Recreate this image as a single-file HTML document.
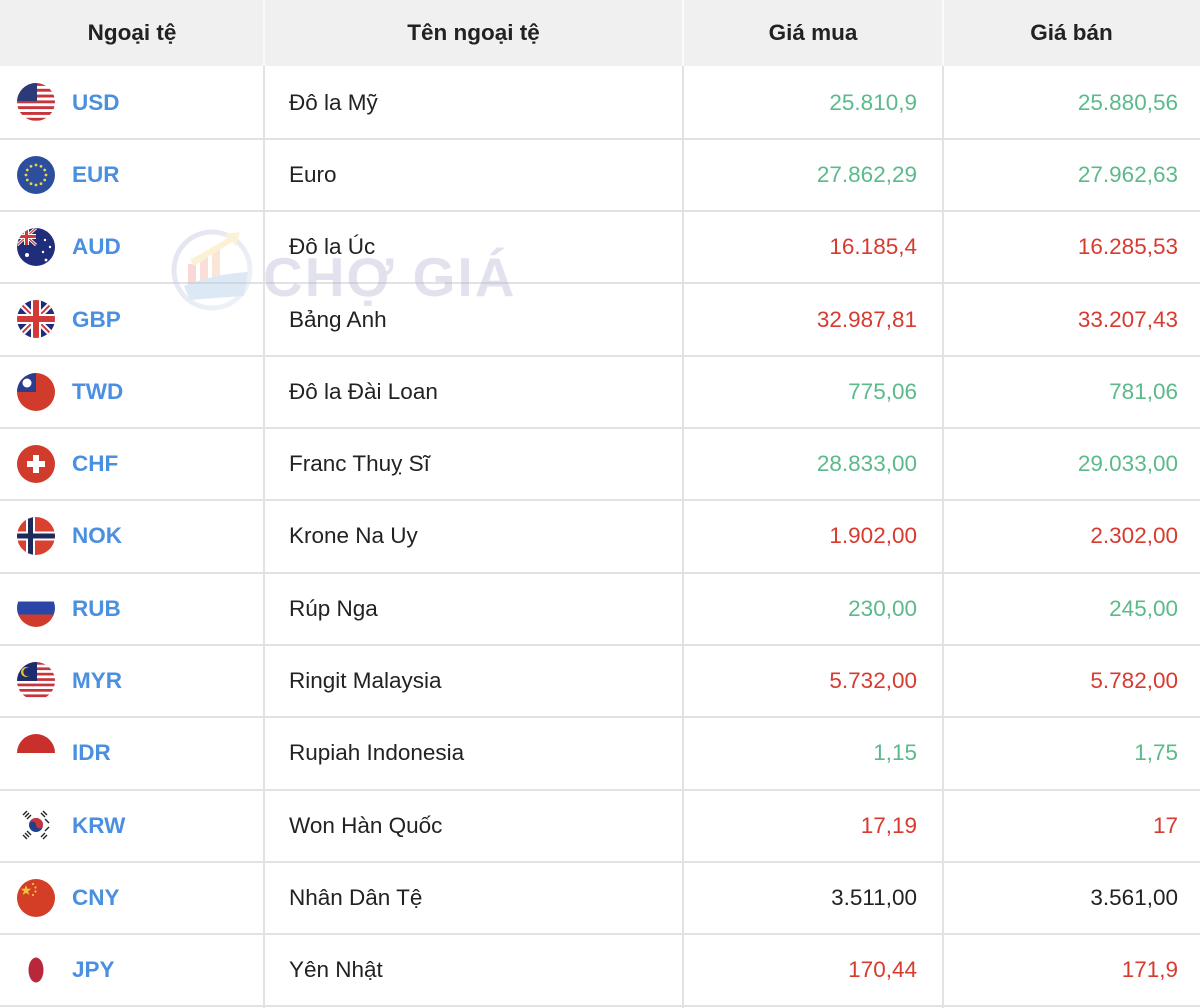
<!DOCTYPE html>
<html>
<head>
<meta charset="utf-8">
<style>
*{margin:0;padding:0;box-sizing:border-box;}
html,body{width:1200px;height:1008px;background:#fff;overflow:hidden;}
body{position:relative;font-family:"Liberation Sans",Arial,sans-serif;color:#222;}
.hdr{position:absolute;left:0;top:0;width:1200px;height:66px;background:#f0f0f0;}
.hc{position:absolute;top:0;height:66px;line-height:65px;text-align:center;font-weight:bold;font-size:22.5px;color:#222;}
.hsep{position:absolute;top:0;width:2px;height:66px;background:#fafafa;}
.vl{position:absolute;top:66px;width:2px;height:942px;background:#e2e2e2;}
.hl{position:absolute;left:0;width:1200px;height:2px;background:#e2e2e2;}
.flag{position:absolute;left:17px;width:38px;height:38px;}
.code{position:absolute;left:72px;font-weight:bold;font-size:22.5px;color:#4a8fe0;margin-top:1px;}
.name{position:absolute;left:289px;font-size:22.5px;color:#222;margin-top:1px;}
.buy{position:absolute;right:283px;font-size:22.5px;text-align:right;margin-top:1px;}
.sell{position:absolute;right:22px;font-size:22.5px;text-align:right;margin-top:1px;}
.g{color:#5bba8a;}
.r{color:#d73a2f;}
.k{color:#222;}
.wm{position:absolute;left:263px;top:245px;font-weight:bold;font-size:55px;color:rgba(180,180,210,0.38);letter-spacing:2px;white-space:nowrap;}
.logo{position:absolute;left:170px;top:226px;width:88px;height:88px;}
</style>
</head>
<body>
<div class="hdr"></div>
<div class="hc" style="left:0;width:264px;">Ngoại tệ</div>
<div class="hc" style="left:264px;width:419px;">Tên ngoại tệ</div>
<div class="hc" style="left:683px;width:260px;">Giá mua</div>
<div class="hc" style="left:943px;width:257px;">Giá bán</div>
<div class="hsep" style="left:263px;"></div>
<div class="hsep" style="left:682px;"></div>
<div class="hsep" style="left:942px;"></div>

<div class="vl" style="left:263px;"></div>
<div class="vl" style="left:682px;"></div>
<div class="vl" style="left:942px;"></div>

<div class="hl" style="top:138px"></div>
<div class="hl" style="top:210px"></div>
<div class="hl" style="top:282px"></div>
<div class="hl" style="top:355px"></div>
<div class="hl" style="top:427px"></div>
<div class="hl" style="top:499px"></div>
<div class="hl" style="top:572px"></div>
<div class="hl" style="top:644px"></div>
<div class="hl" style="top:716px"></div>
<div class="hl" style="top:789px"></div>
<div class="hl" style="top:861px"></div>
<div class="hl" style="top:933px"></div>
<div class="hl" style="top:1005px"></div>

<!-- watermark -->
<svg class="logo" viewBox="0 0 88 88" opacity="0.4">
  <defs>
    <linearGradient id="lg1" x1="0" y1="0" x2="1" y2="1">
      <stop offset="0" stop-color="#b9b9dd"/>
      <stop offset="1" stop-color="#d8e4f0"/>
    </linearGradient>
  </defs>
  <circle cx="42" cy="44" r="38" fill="none" stroke="url(#lg1)" stroke-width="5"/>
  <rect x="18" y="38" width="8" height="20" fill="#f2a3a0"/>
  <rect x="30" y="30" width="8" height="28" fill="#f4b0a0"/>
  <rect x="42" y="24" width="8" height="34" fill="#f6c0a0"/>
  <path d="M20 34 L58 12 L54 8 L70 6 L66 20 L62 16 L24 40 Z" fill="#f6e09a"/>
  <path d="M14 60 Q44 48 78 46 L74 70 Q44 72 20 74 Z" fill="#a9c7e6"/>
</svg>
<div class="wm">CHỢ GIÁ</div>

<svg class="flag" style="top:83px" viewBox="0 0 38 38">
  <defs><clipPath id="c1"><circle cx="19" cy="19" r="19"/></clipPath></defs>
  <g clip-path="url(#c1)">
    <rect width="38" height="38" fill="#fff"/>
    <rect y="0" width="38" height="2.9" fill="#c8343c"/>
    <rect y="5.8" width="38" height="2.9" fill="#c8343c"/>
    <rect y="11.6" width="38" height="2.9" fill="#c8343c"/>
    <rect y="17.4" width="38" height="2.9" fill="#c8343c"/>
    <rect y="23.2" width="38" height="2.9" fill="#c8343c"/>
    <rect y="29" width="38" height="2.9" fill="#c8343c"/>
    <rect y="34.8" width="38" height="2.9" fill="#c8343c"/>
    <rect width="20" height="18" fill="#2c3a78"/>
  </g>
</svg>
<div class="code" style="top:89px">USD</div>
<div class="name" style="top:89px">Đô la Mỹ</div>
<div class="buy g" style="top:89px">25.810,9</div>
<div class="sell g" style="top:89px">25.880,56</div>

<svg class="flag" style="top:156px" viewBox="0 0 38 38">
  <circle cx="19" cy="19" r="19" fill="#2d4e9c"/>
  <g fill="#e8d44a">
    <circle cx="19" cy="9" r="1.4"/><circle cx="24" cy="10.3" r="1.4"/><circle cx="27.7" cy="14" r="1.4"/>
    <circle cx="29" cy="19" r="1.4"/><circle cx="27.7" cy="24" r="1.4"/><circle cx="24" cy="27.7" r="1.4"/>
    <circle cx="19" cy="29" r="1.4"/><circle cx="14" cy="27.7" r="1.4"/><circle cx="10.3" cy="24" r="1.4"/>
    <circle cx="9" cy="19" r="1.4"/><circle cx="10.3" cy="14" r="1.4"/><circle cx="14" cy="10.3" r="1.4"/>
  </g>
</svg>
<div class="code" style="top:161px">EUR</div>
<div class="name" style="top:161px">Euro</div>
<div class="buy g" style="top:161px">27.862,29</div>
<div class="sell g" style="top:161px">27.962,63</div>

<svg class="flag" style="top:228px" viewBox="0 0 38 38">
  <defs><clipPath id="c3"><circle cx="19" cy="19" r="19"/></clipPath></defs>
  <g clip-path="url(#c3)">
    <rect width="38" height="38" fill="#1f2d7a"/>
    <path d="M0 0 L19 17 M19 0 L0 17" stroke="#fff" stroke-width="3"/>
    <path d="M0 0 L19 17 M19 0 L0 17" stroke="#d23a3a" stroke-width="1.2"/>
    <rect x="7" y="0" width="5" height="17" fill="#fff"/>
    <rect x="0" y="6" width="19" height="5" fill="#fff"/>
    <rect x="8" y="0" width="3" height="17" fill="#d23a3a"/>
    <rect x="0" y="7" width="19" height="3" fill="#d23a3a"/>
    <circle cx="10" cy="27" r="2" fill="#fff"/>
    <circle cx="28" cy="12" r="1.2" fill="#fff"/>
    <circle cx="33" cy="19" r="1.2" fill="#fff"/>
    <circle cx="26" cy="24" r="1.2" fill="#fff"/>
    <circle cx="29" cy="32" r="1.4" fill="#fff"/>
  </g>
</svg>
<div class="code" style="top:233px">AUD</div>
<div class="name" style="top:233px">Đô la Úc</div>
<div class="buy r" style="top:233px">16.185,4</div>
<div class="sell r" style="top:233px">16.285,53</div>

<svg class="flag" style="top:300px" viewBox="0 0 38 38">
  <defs><clipPath id="c4"><circle cx="19" cy="19" r="19"/></clipPath></defs>
  <g clip-path="url(#c4)">
    <rect width="38" height="38" fill="#1f2d7a"/>
    <path d="M0 0 L38 38 M38 0 L0 38" stroke="#fff" stroke-width="6"/>
    <path d="M0 0 L38 38 M38 0 L0 38" stroke="#d23a3a" stroke-width="2"/>
    <rect x="14" y="0" width="10" height="38" fill="#fff"/>
    <rect x="0" y="14" width="38" height="10" fill="#fff"/>
    <rect x="16" y="0" width="6" height="38" fill="#d23a3a"/>
    <rect x="0" y="16" width="38" height="6" fill="#d23a3a"/>
  </g>
</svg>
<div class="code" style="top:306px">GBP</div>
<div class="name" style="top:306px">Bảng Anh</div>
<div class="buy r" style="top:306px">32.987,81</div>
<div class="sell r" style="top:306px">33.207,43</div>

<svg class="flag" style="top:373px" viewBox="0 0 38 38">
  <defs><clipPath id="c5"><circle cx="19" cy="19" r="19"/></clipPath></defs>
  <g clip-path="url(#c5)">
    <rect width="38" height="38" fill="#d13b2b"/>
    <rect width="19" height="19" fill="#2a3d8f"/>
    <circle cx="10" cy="10" r="4.5" fill="#fff"/>
  </g>
</svg>
<div class="code" style="top:378px">TWD</div>
<div class="name" style="top:378px">Đô la Đài Loan</div>
<div class="buy g" style="top:378px">775,06</div>
<div class="sell g" style="top:378px">781,06</div>

<svg class="flag" style="top:445px" viewBox="0 0 38 38">
  <circle cx="19" cy="19" r="19" fill="#d13b2b"/>
  <rect x="16" y="10" width="6" height="18" fill="#fff"/>
  <rect x="10" y="16" width="18" height="6" fill="#fff"/>
</svg>
<div class="code" style="top:450px">CHF</div>
<div class="name" style="top:450px">Franc Thuỵ Sĩ</div>
<div class="buy g" style="top:450px">28.833,00</div>
<div class="sell g" style="top:450px">29.033,00</div>

<svg class="flag" style="top:517px" viewBox="0 0 38 38">
  <defs><clipPath id="c7"><circle cx="19" cy="19" r="19"/></clipPath></defs>
  <g clip-path="url(#c7)">
    <rect width="38" height="38" fill="#d8412f"/>
    <rect x="9" y="0" width="9" height="38" fill="#fff"/>
    <rect x="0" y="14.5" width="38" height="9" fill="#fff"/>
    <rect x="11" y="0" width="5" height="38" fill="#1f2a5c"/>
    <rect x="0" y="16.5" width="38" height="5" fill="#1f2a5c"/>
  </g>
</svg>
<div class="code" style="top:522px">NOK</div>
<div class="name" style="top:522px">Krone Na Uy</div>
<div class="buy r" style="top:522px">1.902,00</div>
<div class="sell r" style="top:522px">2.302,00</div>

<svg class="flag" style="top:589px" viewBox="0 0 38 38">
  <defs><clipPath id="c8"><circle cx="19" cy="19" r="19"/></clipPath></defs>
  <g clip-path="url(#c8)">
    <rect width="38" height="38" fill="#fff"/>
    <rect y="12.5" width="38" height="13" fill="#2a47a8"/>
    <rect y="25.5" width="38" height="13" fill="#d13b2b"/>
  </g>
</svg>
<div class="code" style="top:595px">RUB</div>
<div class="name" style="top:595px">Rúp Nga</div>
<div class="buy g" style="top:595px">230,00</div>
<div class="sell g" style="top:595px">245,00</div>

<svg class="flag" style="top:662px" viewBox="0 0 38 38">
  <defs><clipPath id="c9"><circle cx="19" cy="19" r="19"/></clipPath></defs>
  <g clip-path="url(#c9)">
    <rect width="38" height="38" fill="#fff"/>
    <rect y="0" width="38" height="2.7" fill="#c8343c"/>
    <rect y="5.4" width="38" height="2.7" fill="#c8343c"/>
    <rect y="10.8" width="38" height="2.7" fill="#c8343c"/>
    <rect y="16.2" width="38" height="2.7" fill="#c8343c"/>
    <rect y="21.6" width="38" height="2.7" fill="#c8343c"/>
    <rect y="27" width="38" height="2.7" fill="#c8343c"/>
    <rect y="32.4" width="38" height="2.7" fill="#c8343c"/>
    <rect width="20" height="19" fill="#1f2d6e"/>
    <circle cx="9" cy="10" r="5" fill="#e8c431"/>
    <circle cx="10.5" cy="10" r="4.2" fill="#1f2d6e"/>
  </g>
</svg>
<div class="code" style="top:667px">MYR</div>
<div class="name" style="top:667px">Ringit Malaysia</div>
<div class="buy r" style="top:667px">5.732,00</div>
<div class="sell r" style="top:667px">5.782,00</div>

<svg class="flag" style="top:734px" viewBox="0 0 38 38">
  <defs><clipPath id="c10"><circle cx="19" cy="19" r="19"/></clipPath></defs>
  <g clip-path="url(#c10)">
    <rect width="38" height="38" fill="#fff"/>
    <rect width="38" height="19" fill="#c9302c"/>
  </g>
</svg>
<div class="code" style="top:739px">IDR</div>
<div class="name" style="top:739px">Rupiah Indonesia</div>
<div class="buy g" style="top:739px">1,15</div>
<div class="sell g" style="top:739px">1,75</div>

<svg class="flag" style="top:806px" viewBox="0 0 38 38">
  <circle cx="19" cy="19" r="19" fill="#fff"/>
  <circle cx="19" cy="19" r="7" fill="#1f3f8f"/>
  <path d="M12 19 A7 7 0 0 1 26 19 A3.5 3.5 0 0 1 19 19 A3.5 3.5 0 0 0 12 19 Z" fill="#c8343c"/>
  <g stroke="#222" stroke-width="1.4">
    <path d="M6 9 L10 5 M8 11 L12 7 M10 13 L14 9"/>
    <path d="M24 7 L28 11 M26 5 L30 9 M28 13 L32 17" />
    <path d="M6 29 L10 33 M8 27 L12 31 M10 25 L14 29"/>
    <path d="M24 31 L28 27 M26 33 L30 29 M28 25 L32 21"/>
  </g>
</svg>
<div class="code" style="top:812px">KRW</div>
<div class="name" style="top:812px">Won Hàn Quốc</div>
<div class="buy r" style="top:812px">17,19</div>
<div class="sell r" style="top:812px">17</div>

<svg class="flag" style="top:879px" viewBox="0 0 38 38">
  <circle cx="19" cy="19" r="19" fill="#d43d26"/>
  <polygon points="9,6 10.3,9.8 14.3,9.8 11.1,12.2 12.3,16 9,13.7 5.7,16 6.9,12.2 3.7,9.8 7.7,9.8" fill="#f0c33a"/>
  <circle cx="16" cy="5" r="1.1" fill="#f0c33a"/>
  <circle cx="18.5" cy="8.5" r="1.1" fill="#f0c33a"/>
  <circle cx="18.5" cy="12.5" r="1.1" fill="#f0c33a"/>
  <circle cx="16" cy="16" r="1.1" fill="#f0c33a"/>
</svg>
<div class="code" style="top:884px">CNY</div>
<div class="name" style="top:884px">Nhân Dân Tệ</div>
<div class="buy k" style="top:884px">3.511,00</div>
<div class="sell k" style="top:884px">3.561,00</div>

<svg class="flag" style="top:951px" viewBox="0 0 38 38">
  <ellipse cx="19" cy="19" rx="7.5" ry="12.5" fill="#b8283a"/>
</svg>
<div class="code" style="top:956px">JPY</div>
<div class="name" style="top:956px">Yên Nhật</div>
<div class="buy r" style="top:956px">170,44</div>
<div class="sell r" style="top:956px">171,9</div>
</body>
</html>
